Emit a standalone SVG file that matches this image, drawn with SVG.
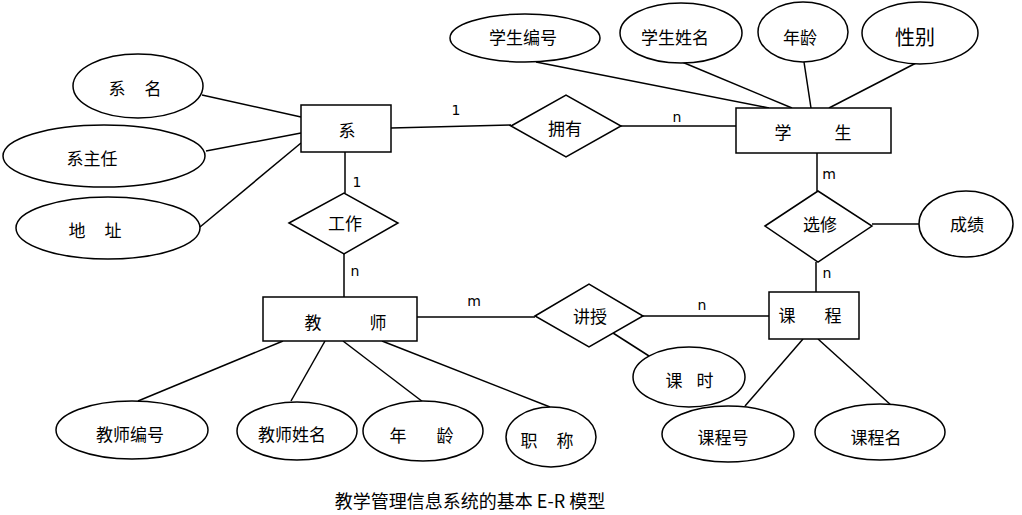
<svg xmlns="http://www.w3.org/2000/svg" width="1022" height="515" viewBox="0 0 1022 515">
<style>
.s{fill:#fff;stroke:#000;stroke-width:1.5}
.c{fill:none;stroke:#000;stroke-width:1.5}
.t{font-family:"Noto Sans CJK SC",sans-serif;font-size:17px;fill:#000;text-anchor:middle;dominant-baseline:central}
.l{font-family:"DejaVu Sans",sans-serif;font-size:14px;fill:#000;text-anchor:middle;dominant-baseline:central}
</style>
<rect width="1022" height="515" fill="#fff"/>
<g id="connectors">
<line class="c" x1="202" y1="95" x2="301" y2="117"/>
<line class="c" x1="206" y1="151" x2="301" y2="133"/>
<line class="c" x1="200" y1="227" x2="301" y2="143"/>
<line class="c" x1="391" y1="128" x2="511" y2="125"/>
<line class="c" x1="621" y1="126" x2="736" y2="126"/>
<line class="c" x1="536" y1="62" x2="769" y2="108"/>
<line class="c" x1="682" y1="62" x2="792" y2="108"/>
<line class="c" x1="804" y1="62" x2="811" y2="108"/>
<line class="c" x1="918" y1="62" x2="829" y2="108"/>
<line class="c" x1="817" y1="153" x2="817" y2="191"/>
<line class="c" x1="872" y1="224" x2="920" y2="224"/>
<line class="c" x1="816" y1="262" x2="816" y2="292"/>
<line class="c" x1="345" y1="152" x2="345" y2="193"/>
<line class="c" x1="344" y1="254" x2="344" y2="297"/>
<line class="c" x1="417" y1="317" x2="535" y2="317"/>
<line class="c" x1="643" y1="316" x2="769" y2="316"/>
<line class="c" x1="613" y1="333" x2="649" y2="356"/>
<line class="c" x1="283" y1="341" x2="138" y2="401"/>
<line class="c" x1="325" y1="341" x2="291" y2="401"/>
<line class="c" x1="343" y1="341" x2="423" y2="402"/>
<line class="c" x1="382" y1="341" x2="550" y2="407"/>
<line class="c" x1="803" y1="339" x2="745" y2="406"/>
<line class="c" x1="818" y1="339" x2="892" y2="406"/>
<text class="l" x="456" y="110">1</text>
<text class="l" x="677" y="117">n</text>
<text class="l" x="357" y="182">1</text>
<text class="l" x="355" y="271">n</text>
<text class="l" x="829" y="174">m</text>
<text class="l" x="827" y="273">n</text>
<text class="l" x="474" y="301">m</text>
<text class="l" x="702" y="305">n</text>
</g>
<g id="xi">
<rect class="s" x="301" y="105" width="90" height="47"/>
<text class="t" x="347" y="129">系</text>
</g>
<g id="xueSheng">
<rect class="s" x="736" y="108" width="155" height="45"/>
<text class="t" y="131"><tspan x="783">学</tspan><tspan x="843">生</tspan></text>
</g>
<g id="jiaoShi">
<rect class="s" x="263" y="297" width="154" height="44"/>
<text class="t" y="321"><tspan x="313">教</tspan><tspan x="378">师</tspan></text>
</g>
<g id="keCheng">
<rect class="s" x="769" y="292" width="90" height="47"/>
<text class="t" y="314"><tspan x="787">课</tspan><tspan x="833">程</tspan></text>
</g>
<g id="yongYou">
<polygon class="s" points="511,126 566,95 621,126 566,157"/>
<text class="t" x="565" y="127">拥有</text>
</g>
<g id="gongZuo">
<polygon class="s" points="289,223 344,193 398,223 344,254"/>
<text class="t" x="345" y="222">工作</text>
</g>
<g id="xuanXiu">
<polygon class="s" points="765,226 818,191 872,226 818,262"/>
<text class="t" x="820" y="223">选修</text>
</g>
<g id="jiangShou">
<polygon class="s" points="535,316 589,284 643,316 589,347"/>
<text class="t" x="590" y="315">讲授</text>
</g>
<g id="xiMing">
<ellipse class="s" cx="138" cy="86" rx="65" ry="32"/>
<text class="t" y="87"><tspan x="117">系</tspan><tspan x="153">名</tspan></text>
</g>
<g id="xiZhuRen">
<ellipse class="s" cx="104" cy="156" rx="101" ry="31"/>
<text class="t" x="92" y="157">系主任</text>
</g>
<g id="diZhi">
<ellipse class="s" cx="108" cy="228" rx="92" ry="31"/>
<text class="t" y="229"><tspan x="77">地</tspan><tspan x="113">址</tspan></text>
</g>
<g id="xueShengBianHao">
<ellipse class="s" cx="525" cy="38" rx="75" ry="24"/>
<text class="t" x="523" y="36">学生编号</text>
</g>
<g id="xueShengXingMing">
<ellipse class="s" cx="681" cy="33" rx="61" ry="30"/>
<text class="t" x="675" y="36">学生姓名</text>
</g>
<g id="nianLing1">
<ellipse class="s" cx="803" cy="32" rx="45" ry="30"/>
<text class="t" x="800" y="36">年龄</text>
</g>
<g id="xingBie">
<ellipse class="s" cx="920" cy="33" rx="58" ry="31"/>
<text class="t" x="915" y="36" style="font-size:20px">性别</text>
</g>
<g id="chengJi">
<ellipse class="s" cx="966" cy="224" rx="47" ry="33"/>
<text class="t" x="967" y="223">成绩</text>
</g>
<g id="keShi">
<ellipse class="s" cx="689" cy="377" rx="56" ry="30"/>
<text class="t" y="379"><tspan x="674">课</tspan><tspan x="705">时</tspan></text>
</g>
<g id="jiaoShiBianHao">
<ellipse class="s" cx="132" cy="430" rx="76" ry="29"/>
<text class="t" x="130" y="433">教师编号</text>
</g>
<g id="jiaoShiXingMing">
<ellipse class="s" cx="297" cy="431" rx="60" ry="29"/>
<text class="t" x="292" y="433">教师姓名</text>
</g>
<g id="nianLing2">
<ellipse class="s" cx="423" cy="431" rx="60" ry="30"/>
<text class="t" y="434"><tspan x="398">年</tspan><tspan x="445">龄</tspan></text>
</g>
<g id="zhiCheng">
<ellipse class="s" cx="551" cy="437" rx="45" ry="30"/>
<text class="t" y="439"><tspan x="529">职</tspan><tspan x="565">称</tspan></text>
</g>
<g id="keChengHao">
<ellipse class="s" cx="728" cy="434" rx="66" ry="28"/>
<text class="t" x="723" y="436">课程号</text>
</g>
<g id="keChengMing">
<ellipse class="s" cx="880" cy="432" rx="65" ry="28"/>
<text class="t" x="876" y="436">课程名</text>
</g>
<text class="t" x="470" y="500" style="font-size:18px">教学管理信息系统的基本 E-R 模型</text>
</svg>
